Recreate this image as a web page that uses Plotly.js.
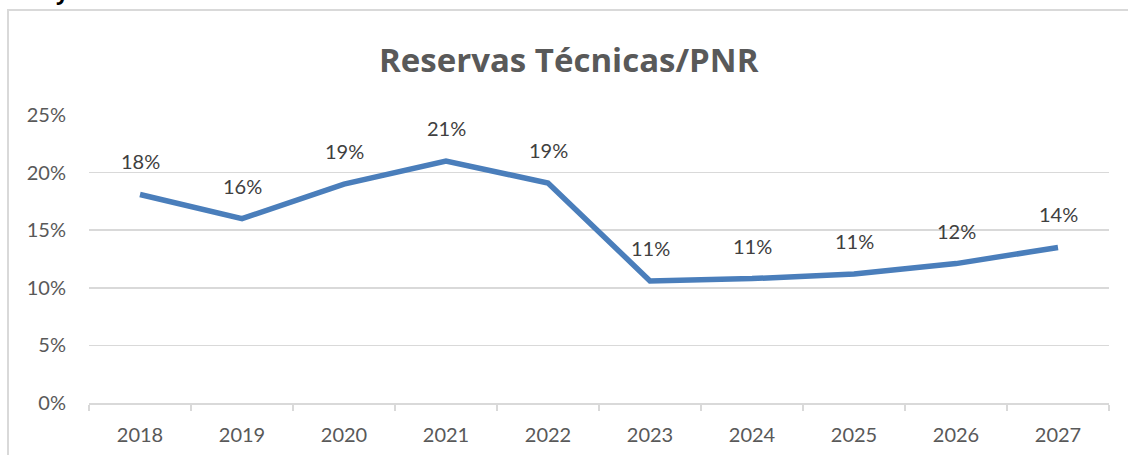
<!DOCTYPE html>
<html>
<head>
<meta charset="utf-8">
<script src="https://cdn.plot.ly/plotly-3.0.1.min.js"></script>
<style>html,body{margin:0;padding:0;background:#fff;}#chart{width:1128px;height:455px;}</style>
</head>
<body>
<div id="chart"></div>
<script>
const years = ["2018","2019","2020","2021","2022","2023","2024","2025","2026","2027"];
const ratio = [0.181, 0.160, 0.190, 0.210, 0.191, 0.106, 0.108, 0.112, 0.121, 0.135];
const yTicks = [0, 0.05, 0.10, 0.15, 0.20, 0.25];
const titleText = "Reservas Técnicas/PNR";

const FONT = "Lato, 'Open Sans', sans-serif";
const TFONT = "'Open Sans', Lato, sans-serif";
const L = 89, R = 19, T = 115, B = 52, W = 1128, H = 455;
const pw = W - L - R, ph = H - T - B;
const px = v => (v - L) / pw;
const py = v => (H - B - v) / ph;

const trace = {
  x: years, y: ratio, type: "scatter", mode: "lines",
  line: {color: "#4A7EBB", width: 5.5},
  hoverinfo: "skip"
};

const annotations = years.map((yr, i) => ({
  x: i, y: ratio[i], xref: "x", yref: "y",
  text: Math.round(ratio[i] * 100) + "%",
  showarrow: false, yshift: 33,
  font: {family: FONT, size: 20, color: "#404040"}
}));
annotations.push({
  xref: "paper", yref: "paper", x: px(569), y: py(60),
  xanchor: "center", yanchor: "middle",
  text: "<b>" + titleText + "</b>", showarrow: false,
  font: {family: TFONT, size: 33, color: "#595959"}
});
annotations.push({
  xref: "paper", yref: "paper", x: px(62), y: py(8),
  xanchor: "center", yanchor: "bottom",
  text: "<b>y</b>", showarrow: false,
  font: {family: TFONT, size: 22, color: "#000"}
});

const layout = {
  width: W, height: H,
  margin: {l: L, r: R, t: T, b: B},
  paper_bgcolor: "#fff", plot_bgcolor: "#fff",
  showlegend: false,
  xaxis: {
    type: "category", tickson: "boundaries", ticks: "outside", ticklen: 6,
    tickcolor: "#d9d9d9", tickwidth: 2,
    showline: true, linecolor: "#d9d9d9", linewidth: 2,
    showgrid: false, zeroline: false,
    tickfont: {family: FONT, size: 20, color: "#595959"},
    ticklabelstandoff: 13,
    range: [-0.5, 9.5], fixedrange: true
  },
  yaxis: {
    range: [0, 0.25], tickvals: yTicks, tickformat: ".0%",
    showgrid: true, gridcolor: "#d9d9d9", gridwidth: 1.5,
    zeroline: false, showline: false, ticks: "",
    tickfont: {family: FONT, size: 20, color: "#595959"},
    ticklabelstandoff: 22, fixedrange: true
  },
  annotations: annotations,
  shapes: [
    {type: "line", xref: "paper", yref: "paper", x0: px(8), x1: px(8), y0: py(10), y1: py(460),
     line: {color: "#d9d9d9", width: 2}},
    {type: "line", xref: "paper", yref: "paper", x0: px(7), x1: px(1130), y0: py(10), y1: py(10),
     line: {color: "#d9d9d9", width: 2}}
  ]
};

Plotly.newPlot("chart", [trace], layout, {displayModeBar: false, staticPlot: true});
</script>
</body>
</html>
